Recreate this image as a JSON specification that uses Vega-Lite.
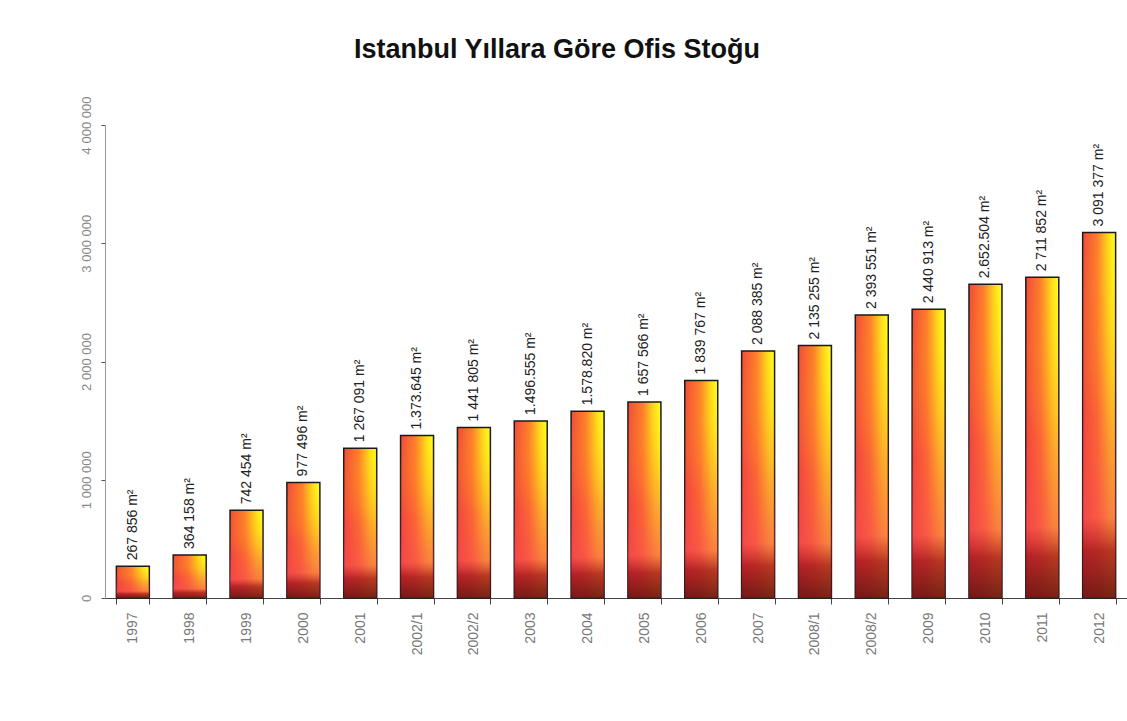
{
  "$schema": "https://vega.github.io/schema/vega-lite/v6.json",
  "autosize": {"type": "none"},
  "width": 1022,
  "height": 473,
  "padding": {"left": 105, "top": 125, "right": 0, "bottom": 123},
  "background": "white",
  "config": {
    "view": {"stroke": null},
    "font": "Liberation Sans",
    "locale": {"number": {"decimal": ",", "thousands": " ", "grouping": [3], "currency": ["", ""]}}
  },
  "title": {
    "text": "Istanbul Yıllara Göre Ofis Stoğu",
    "fontSize": 27,
    "fontWeight": "bold",
    "font": "Liberation Sans",
    "color": "#111",
    "anchor": "middle",
    "dx": -59,
    "offset": 32
  },
  "data": {
    "values": [
      {"period": "1997", "stock": 267856, "label": "267 856 m²"},
      {"period": "1998", "stock": 364158, "label": "364 158 m²"},
      {"period": "1999", "stock": 742454, "label": "742 454 m²"},
      {"period": "2000", "stock": 977496, "label": "977 496 m²"},
      {"period": "2001", "stock": 1267091, "label": "1 267 091 m²"},
      {"period": "2002/1", "stock": 1373645, "label": "1.373.645 m²"},
      {"period": "2002/2", "stock": 1441805, "label": "1 441 805 m²"},
      {"period": "2003", "stock": 1496555, "label": "1.496.555 m²"},
      {"period": "2004", "stock": 1578820, "label": "1.578.820 m²"},
      {"period": "2005", "stock": 1657566, "label": "1 657 566 m²"},
      {"period": "2006", "stock": 1839767, "label": "1 839 767 m²"},
      {"period": "2007", "stock": 2088385, "label": "2 088 385 m²"},
      {"period": "2008/1", "stock": 2135255, "label": "2 135 255 m²"},
      {"period": "2008/2", "stock": 2393551, "label": "2 393 551 m²"},
      {"period": "2009", "stock": 2440913, "label": "2 440 913 m²"},
      {"period": "2010", "stock": 2652504, "label": "2.652.504 m²"},
      {"period": "2011", "stock": 2711852, "label": "2 711 852 m²"},
      {"period": "2012", "stock": 3091377, "label": "3 091 377 m²"}
    ]
  },
  "encoding": {
    "x": {
      "field": "period",
      "type": "ordinal",
      "sort": null,
      "scale": {"paddingInner": 0.42, "paddingOuter": 0.2},
      "axis": {
        "title": null,
        "labelAngle": 270,
        "labelFontSize": 14,
        "labelColor": "#777",
        "labelPadding": 8,
        "tickBand": "extent",
        "tickSize": 6,
        "tickColor": "#444",
        "domainColor": "#444"
      }
    },
    "y": {
      "field": "stock",
      "type": "quantitative",
      "scale": {"domain": [0, 4000000], "nice": false},
      "axis": {
        "title": null,
        "values": [0, 1000000, 2000000, 3000000, 4000000],
        "format": ",d",
        "labelAngle": 270,
        "labelFontSize": 13,
        "labelColor": "#888",
        "labelPadding": 8,
        "tickSize": 4,
        "tickColor": "#555",
        "domainColor": "#999",
        "grid": false
      }
    }
  },
  "layer": [
    {
      "mark": {
        "type": "bar",
        "stroke": "#1a1a1a",
        "strokeWidth": 1.5,
        "color": {
          "gradient": "linear",
          "x1": 0, "y1": 0, "x2": 1, "y2": 0,
          "stops": [
            {"offset": 0, "color": "#f04a3a"},
            {"offset": 0.45, "color": "#ff7e2c"},
            {"offset": 0.8, "color": "#ffe01a"},
            {"offset": 1, "color": "#ffff20"}
          ]
        }
      }
    },
    {
      "mark": {
        "type": "bar",
        "color": {
          "gradient": "linear",
          "x1": 0, "y1": 0, "x2": 0, "y2": 1,
          "stops": [
            {"offset": 0, "color": "rgba(255,200,0,0)"},
            {"offset": 0.5, "color": "rgba(245,60,70,0.35)"},
            {"offset": 0.78, "color": "rgba(245,70,80,0.65)"},
            {"offset": 0.87, "color": "rgba(170,25,35,0.85)"},
            {"offset": 1, "color": "rgba(105,20,20,0.92)"}
          ]
        }
      }
    },
    {
      "mark": {
        "type": "text",
        "angle": 270,
        "align": "left",
        "baseline": "middle",
        "dx": 6,
        "fontSize": 14,
        "color": "#222"
      },
      "encoding": {"text": {"field": "label"}}
    }
  ]
}
